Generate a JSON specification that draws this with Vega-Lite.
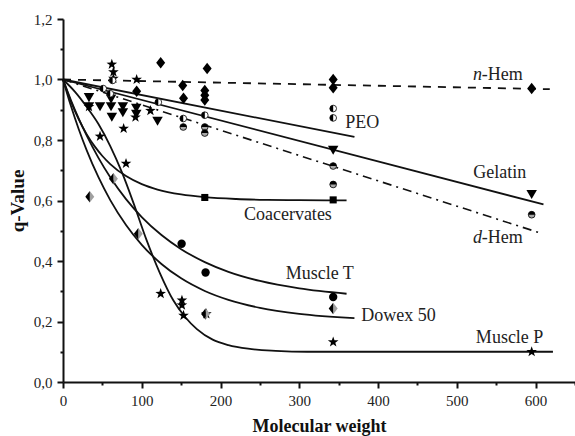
{
  "$schema": "https://vega.github.io/schema/vega-lite/v6.json",
  "width": 512,
  "height": 363,
  "autosize": "none",
  "padding": {"left": 63, "top": 19, "right": 0, "bottom": 54},
  "background": "white",
  "config": {
    "view": {"stroke": null},
    "font": "Liberation Serif",
    "axis": {
      "grid": false,
      "domainColor": "#111",
      "domainWidth": 2,
      "tickColor": "#111",
      "tickWidth": 2,
      "labelFont": "Liberation Serif",
      "labelFontSize": 15,
      "labelColor": "#222",
      "titleFont": "Liberation Serif",
      "titleFontWeight": "bold",
      "titleColor": "#111"
    }
  },
  "datasets": {
    "curves": [
      {"c": "nHem", "x": 0, "y": 1.0}, {"c": "nHem", "x": 618, "y": 0.968},
      {"c": "PEO", "x": 0, "y": 1.0}, {"c": "PEO", "x": 370, "y": 0.81},
      {"c": "Gelatin", "x": 0, "y": 1.0}, {"c": "Gelatin", "x": 610, "y": 0.587},
      {"c": "dHem", "x": 0, "y": 1.0}, {"c": "dHem", "x": 609, "y": 0.49},
      {"c": "Coacervates", "x": 0, "y": 1.0}, {"c": "Coacervates", "x": 10, "y": 0.9275},
      {"c": "Coacervates", "x": 20, "y": 0.8681}, {"c": "Coacervates", "x": 30, "y": 0.8195},
      {"c": "Coacervates", "x": 40, "y": 0.7797}, {"c": "Coacervates", "x": 50, "y": 0.7472},
      {"c": "Coacervates", "x": 60, "y": 0.7205}, {"c": "Coacervates", "x": 80, "y": 0.6808},
      {"c": "Coacervates", "x": 100, "y": 0.6541}, {"c": "Coacervates", "x": 120, "y": 0.6363},
      {"c": "Coacervates", "x": 150, "y": 0.6199}, {"c": "Coacervates", "x": 180, "y": 0.6109},
      {"c": "Coacervates", "x": 220, "y": 0.6049}, {"c": "Coacervates", "x": 260, "y": 0.6022},
      {"c": "Coacervates", "x": 300, "y": 0.601}, {"c": "Coacervates", "x": 360, "y": 0.6003},
      {"c": "MuscleT", "x": 0, "y": 1.0}, {"c": "MuscleT", "x": 10, "y": 0.9322},
      {"c": "MuscleT", "x": 20, "y": 0.8707}, {"c": "MuscleT", "x": 30, "y": 0.815},
      {"c": "MuscleT", "x": 45, "y": 0.7408}, {"c": "MuscleT", "x": 60, "y": 0.6767},
      {"c": "MuscleT", "x": 80, "y": 0.6047}, {"c": "MuscleT", "x": 100, "y": 0.5454},
      {"c": "MuscleT", "x": 125, "y": 0.4859}, {"c": "MuscleT", "x": 150, "y": 0.4392},
      {"c": "MuscleT", "x": 180, "y": 0.3963}, {"c": "MuscleT", "x": 210, "y": 0.3642},
      {"c": "MuscleT", "x": 250, "y": 0.3339}, {"c": "MuscleT", "x": 300, "y": 0.3092},
      {"c": "MuscleT", "x": 360, "y": 0.2918},
      {"c": "Dowex", "x": 0, "y": 1.0}, {"c": "Dowex", "x": 10, "y": 0.9131},
      {"c": "Dowex", "x": 20, "y": 0.8357}, {"c": "Dowex", "x": 30, "y": 0.7666},
      {"c": "Dowex", "x": 45, "y": 0.6769}, {"c": "Dowex", "x": 60, "y": 0.6014},
      {"c": "Dowex", "x": 80, "y": 0.519}, {"c": "Dowex", "x": 100, "y": 0.4535},
      {"c": "Dowex", "x": 125, "y": 0.3902}, {"c": "Dowex", "x": 150, "y": 0.3426},
      {"c": "Dowex", "x": 180, "y": 0.301}, {"c": "Dowex", "x": 210, "y": 0.2716},
      {"c": "Dowex", "x": 250, "y": 0.2452}, {"c": "Dowex", "x": 300, "y": 0.2254},
      {"c": "Dowex", "x": 370, "y": 0.2114},
      {"c": "MuscleP", "x": 0, "y": 1.0}, {"c": "MuscleP", "x": 15, "y": 0.96},
      {"c": "MuscleP", "x": 30, "y": 0.91}, {"c": "MuscleP", "x": 45, "y": 0.853},
      {"c": "MuscleP", "x": 60, "y": 0.78}, {"c": "MuscleP", "x": 75, "y": 0.692},
      {"c": "MuscleP", "x": 90, "y": 0.588}, {"c": "MuscleP", "x": 106, "y": 0.47},
      {"c": "MuscleP", "x": 123, "y": 0.36}, {"c": "MuscleP", "x": 140, "y": 0.27},
      {"c": "MuscleP", "x": 155, "y": 0.215}, {"c": "MuscleP", "x": 170, "y": 0.175},
      {"c": "MuscleP", "x": 190, "y": 0.14}, {"c": "MuscleP", "x": 210, "y": 0.122},
      {"c": "MuscleP", "x": 235, "y": 0.11}, {"c": "MuscleP", "x": 270, "y": 0.103},
      {"c": "MuscleP", "x": 310, "y": 0.1}, {"c": "MuscleP", "x": 622, "y": 0.1}
    ],
    "pts": [
      {"s": "nHem", "x": 124, "y": 1.055}, {"s": "nHem", "x": 183, "y": 1.036},
      {"s": "nHem", "x": 152, "y": 0.98}, {"s": "nHem", "x": 93.5, "y": 0.961},
      {"s": "nHem", "x": 153, "y": 0.938}, {"s": "nHem", "x": 180, "y": 0.964},
      {"s": "nHem", "x": 180, "y": 0.948}, {"s": "nHem", "x": 180, "y": 0.932},
      {"s": "nHem", "x": 343, "y": 1.0}, {"s": "nHem", "x": 343, "y": 0.973},
      {"s": "nHem", "x": 595, "y": 0.97},
      {"s": "Gelatin", "x": 33, "y": 0.94}, {"s": "Gelatin", "x": 33, "y": 0.91},
      {"s": "Gelatin", "x": 47, "y": 0.91}, {"s": "Gelatin", "x": 61, "y": 0.935},
      {"s": "Gelatin", "x": 61, "y": 0.91}, {"s": "Gelatin", "x": 62, "y": 0.875},
      {"s": "Gelatin", "x": 76, "y": 0.91}, {"s": "Gelatin", "x": 76, "y": 0.89},
      {"s": "Gelatin", "x": 93, "y": 0.905}, {"s": "Gelatin", "x": 93, "y": 0.885},
      {"s": "Gelatin", "x": 120, "y": 0.862}, {"s": "Gelatin", "x": 343, "y": 0.766},
      {"s": "Gelatin", "x": 595, "y": 0.62},
      {"s": "MuscleP", "x": 62, "y": 1.05}, {"s": "MuscleP", "x": 64, "y": 1.025},
      {"s": "MuscleP", "x": 64, "y": 1.003}, {"s": "MuscleP", "x": 93.5, "y": 1.0},
      {"s": "MuscleP", "x": 33, "y": 0.91}, {"s": "MuscleP", "x": 47, "y": 0.812},
      {"s": "MuscleP", "x": 77, "y": 0.838}, {"s": "MuscleP", "x": 80, "y": 0.722},
      {"s": "MuscleP", "x": 92, "y": 0.875}, {"s": "MuscleP", "x": 111, "y": 0.897},
      {"s": "MuscleP", "x": 124, "y": 0.292}, {"s": "MuscleP", "x": 151, "y": 0.27},
      {"s": "MuscleP", "x": 151, "y": 0.254}, {"s": "MuscleP", "x": 153, "y": 0.22},
      {"s": "MuscleP", "x": 182, "y": 0.225}, {"s": "MuscleP", "x": 343, "y": 0.132},
      {"s": "MuscleP", "x": 595, "y": 0.1},
      {"s": "Coacervates", "x": 180, "y": 0.61}, {"s": "Coacervates", "x": 343, "y": 0.602},
      {"s": "MuscleT", "x": 150.6, "y": 0.457}, {"s": "MuscleT", "x": 181, "y": 0.362},
      {"s": "MuscleT", "x": 343, "y": 0.281},
      {"s": "Dowex", "x": 34, "y": 0.612}, {"s": "Dowex", "x": 64, "y": 0.672},
      {"s": "Dowex", "x": 95.6, "y": 0.49}, {"s": "Dowex", "x": 343, "y": 0.243},
      {"s": "Dowex", "x": 181, "y": 0.225},
      {"s": "PEO", "x": 63, "y": 0.997}, {"s": "PEO", "x": 51, "y": 0.97},
      {"s": "PEO", "x": 60, "y": 0.953}, {"s": "PEO", "x": 121, "y": 0.925},
      {"s": "PEO", "x": 152.7, "y": 0.871}, {"s": "PEO", "x": 180, "y": 0.882},
      {"s": "PEO", "x": 343, "y": 0.904}, {"s": "PEO", "x": 343, "y": 0.873},
      {"s": "dHem", "x": 152.7, "y": 0.843}, {"s": "dHem", "x": 180, "y": 0.843},
      {"s": "dHem", "x": 180, "y": 0.823}, {"s": "dHem", "x": 343, "y": 0.714},
      {"s": "dHem", "x": 343, "y": 0.653}, {"s": "dHem", "x": 595, "y": 0.553}
    ],
    "labels": [
      {"t": "PEO", "x": 380, "y": 0.855},
      {"t": "Gelatin", "x": 554.6, "y": 0.69},
      {"t": "Coacervates", "x": 285.5, "y": 0.551},
      {"t": "Muscle T", "x": 326, "y": 0.356},
      {"t": "Dowex 50", "x": 426, "y": 0.217},
      {"t": "Muscle P", "x": 567, "y": 0.145}
    ],
    "italics": [
      {"t": "n", "x": 520.5, "y": 1.014},
      {"t": "d", "x": 520.5, "y": 0.477}
    ],
    "hems": [
      {"t": "-Hem", "x": 531.5, "y": 1.014},
      {"t": "-Hem", "x": 531.5, "y": 0.477}
    ]
  },
  "encoding": {
    "x": {
      "field": "x", "type": "quantitative",
      "scale": {"domain": [0, 650], "nice": false, "zero": false},
      "axis": {
        "orient": "bottom",
        "title": "Molecular weight",
        "titleFontSize": 18,
        "titlePadding": 9,
        "values": [0, 50, 100, 150, 200, 250, 300, 350, 400, 450, 500, 550, 600, 650],
        "labelExpr": "datum.value % 100 == 0 && datum.value <= 600 ? datum.value : ''",
        "tickSize": {"condition": {"test": "datum.value % 100 == 0", "value": 6}, "value": 3},
        "labelPadding": 5,
        "labelFlush": false,
        "labelOverlap": false
      }
    },
    "y": {
      "field": "y", "type": "quantitative",
      "scale": {"domain": [0, 1.2], "nice": false},
      "axis": {
        "orient": "left",
        "title": "q-Value",
        "titleFontSize": 19,
        "titlePadding": 6,
        "values": [0, 0.1, 0.2, 0.3, 0.4, 0.5, 0.6, 0.7, 0.8, 0.9, 1.0, 1.1, 1.2],
        "labelExpr": "round(datum.value * 10) % 2 == 0 ? replace(format(datum.value, '.1f'), '.', ',') : ''",
        "tickSize": {"condition": {"test": "round(datum.value * 10) % 2 == 0", "value": 6}, "value": 3},
        "labelPadding": 5,
        "labelFlush": false,
        "labelOverlap": false
      }
    }
  },
  "layer": [
    {
      "data": {"name": "curves"},
      "transform": [{"filter": "datum.c != 'nHem' && datum.c != 'dHem'"}],
      "mark": {"type": "line", "color": "#111", "strokeWidth": 1.8, "interpolate": "monotone"},
      "encoding": {"detail": {"field": "c", "type": "nominal"}}
    },
    {
      "data": {"name": "curves"},
      "transform": [{"filter": "datum.c == 'nHem'"}],
      "mark": {"type": "line", "color": "#111", "strokeWidth": 1.8, "strokeDash": [8, 7]},
      "encoding": {}
    },
    {
      "data": {"name": "curves"},
      "transform": [{"filter": "datum.c == 'dHem'"}],
      "mark": {"type": "line", "color": "#111", "strokeWidth": 1.6, "strokeDash": [9, 5, 2, 5]},
      "encoding": {}
    },
    {
      "data": {"name": "pts"},
      "transform": [{"filter": "datum.s == 'nHem'"}],
      "mark": {"type": "point", "shape": "M0,-1.15 L0.9,0 L0,1.15 L-0.9,0 Z", "filled": true, "color": "#000", "opacity": 1, "size": 100}
    },
    {
      "data": {"name": "pts"},
      "transform": [{"filter": "datum.s == 'Gelatin'"}],
      "mark": {"type": "point", "shape": "triangle-down", "filled": true, "color": "#000", "opacity": 1, "size": 110}
    },
    {
      "data": {"name": "pts"},
      "transform": [{"filter": "datum.s == 'MuscleP'"}],
      "mark": {"type": "point", "shape": "M0,-1 L0.235,-0.324 L0.951,-0.309 L0.38,0.124 L0.588,0.809 L0,0.4 L-0.588,0.809 L-0.38,0.124 L-0.951,-0.309 L-0.235,-0.324 Z", "filled": true, "color": "#000", "opacity": 1, "size": 125}
    },
    {
      "data": {"name": "pts"},
      "transform": [{"filter": "datum.s == 'Coacervates'"}],
      "mark": {"type": "point", "shape": "square", "filled": true, "color": "#000", "opacity": 1, "size": 50}
    },
    {
      "data": {"name": "pts"},
      "transform": [{"filter": "datum.s == 'MuscleT'"}],
      "mark": {"type": "point", "shape": "circle", "filled": true, "color": "#000", "opacity": 1, "size": 70}
    },
    {
      "data": {"name": "pts"},
      "transform": [{"filter": "datum.s == 'Dowex'"}],
      "mark": {"type": "point", "shape": "M0,-1.15 L0.9,0 L0,1.15 Z", "filled": true, "color": "#a0a0a0", "opacity": 1, "size": 100}
    },
    {
      "data": {"name": "pts"},
      "transform": [{"filter": "datum.s == 'Dowex'"}],
      "mark": {"type": "point", "shape": "M0,-1.15 L-0.9,0 L0,1.15 Z", "filled": true, "color": "#000", "opacity": 1, "size": 100}
    },
    {
      "data": {"name": "pts"},
      "transform": [{"filter": "datum.s == 'PEO'"}],
      "mark": {"type": "point", "shape": "circle", "filled": true, "fill": "#fff", "stroke": "#000", "strokeWidth": 0.8, "opacity": 1, "fillOpacity": 1, "size": 45}
    },
    {
      "data": {"name": "pts"},
      "transform": [{"filter": "datum.s == 'PEO'"}],
      "mark": {"type": "point", "shape": "M0,-1 A1,1 0 0 0 0,1 Z", "filled": true, "color": "#000", "opacity": 1, "size": 45}
    },
    {
      "data": {"name": "pts"},
      "transform": [{"filter": "datum.s == 'dHem'"}],
      "mark": {"type": "point", "shape": "circle", "filled": true, "fill": "#a8a8a8", "stroke": "#000", "strokeWidth": 0.8, "opacity": 1, "fillOpacity": 1, "size": 45}
    },
    {
      "data": {"name": "pts"},
      "transform": [{"filter": "datum.s == 'dHem'"}],
      "mark": {"type": "point", "shape": "M-1,0 A1,1 0 0 1 1,0 Z", "filled": true, "color": "#000", "opacity": 1, "size": 45}
    },
    {
      "data": {"name": "labels"},
      "mark": {"type": "text", "font": "Liberation Serif", "fontSize": 18, "color": "#222", "align": "center", "baseline": "middle"},
      "encoding": {"text": {"field": "t", "type": "nominal"}}
    },
    {
      "data": {"name": "italics"},
      "mark": {"type": "text", "font": "Liberation Serif", "fontSize": 18, "fontStyle": "italic", "color": "#222", "align": "left", "baseline": "middle"},
      "encoding": {"text": {"field": "t", "type": "nominal"}}
    },
    {
      "data": {"name": "hems"},
      "mark": {"type": "text", "font": "Liberation Serif", "fontSize": 18, "color": "#222", "align": "left", "baseline": "middle"},
      "encoding": {"text": {"field": "t", "type": "nominal"}}
    }
  ]
}
